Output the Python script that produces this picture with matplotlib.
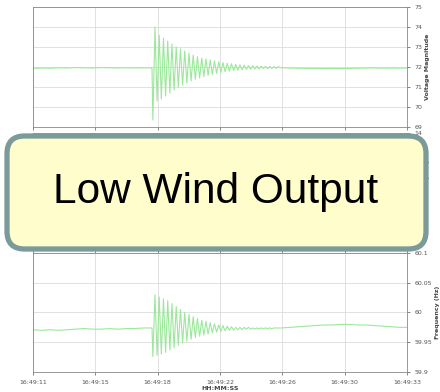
import numpy as np
import matplotlib.pyplot as plt
from matplotlib.patches import FancyBboxPatch

# time ticks (seconds after 16:49:11)
tick_pos = [0, 3.667, 7.333, 11.0, 14.667, 18.333, 22.0]
tick_lab = ['16:49:11', '16:49:15', '16:49:18', '16:49:22', '16:49:26', '16:49:30', '16:49:33']

# voltage magnitude: quiet baseline before the event (every 0.5 s)
v_pre = [71.93, 71.95, 71.94, 71.96, 71.95, 71.97, 71.96, 71.95, 71.97, 71.96,
         71.95, 71.96, 71.95, 71.96, 71.95]
# oscillation lows / highs (one pair every 0.25 s, from t=7.05 s)
v_low = [69.35, 70.3, 70.4, 70.55, 70.7, 70.85, 71.0, 71.1, 71.2, 71.3,
         71.38, 71.45, 71.52, 71.58, 71.63, 71.68, 71.72, 71.76, 71.79, 71.82,
         71.84, 71.86, 71.88, 71.89, 71.9, 71.91, 71.92, 71.92, 71.93, 71.93]
v_high = [74.0, 73.6, 73.45, 73.3, 73.15, 73.0, 72.9, 72.8, 72.7, 72.6,
          72.52, 72.45, 72.4, 72.35, 72.3, 72.26, 72.22, 72.19, 72.16, 72.13,
          72.11, 72.09, 72.07, 72.06, 72.05, 72.04, 72.03, 72.02, 72.02, 72.01]
# baseline after the event (every 0.5 s, from t=14.6 s)
v_post = [71.96, 71.95, 71.94, 71.93, 71.93, 71.92, 71.93, 71.92, 71.93, 71.94,
          71.95, 71.95, 71.94, 71.95, 71.94, 71.95]

# frequency
f_pre = [59.971, 59.970, 59.971, 59.970, 59.971, 59.972, 59.973, 59.972, 59.972,
         59.973, 59.972, 59.973, 59.973, 59.974, 59.974]
f_low = [59.926, 59.928, 59.930, 59.933, 59.937, 59.941, 59.945, 59.949, 59.952, 59.955,
         59.958, 59.960, 59.962, 59.964, 59.966, 59.967, 59.968, 59.969, 59.970, 59.970,
         59.971, 59.971, 59.972, 59.972, 59.972, 59.973, 59.973, 59.973, 59.973, 59.974]
f_high = [60.030, 60.026, 60.023, 60.020, 60.015, 60.010, 60.005, 60.000, 59.997, 59.993,
          59.990, 59.987, 59.985, 59.983, 59.981, 59.979, 59.978, 59.977, 59.976, 59.975,
          59.975, 59.975, 59.975, 59.974, 59.974, 59.974, 59.974, 59.974, 59.974, 59.974]
f_post = [59.974, 59.975, 59.976, 59.977, 59.978, 59.979, 59.979, 59.980, 59.980, 59.979,
          59.979, 59.978, 59.977, 59.976, 59.975, 59.975]

t_pre = np.arange(len(v_pre)) * 0.5
t_osc = 7.05 + np.arange(2 * len(v_low)) * 0.125
t_post = 14.6 + np.arange(len(v_post)) * 0.5

def series(pre, low, high, post):
    osc = np.column_stack([low, high]).ravel()
    return (np.concatenate([t_pre, t_osc, t_post]),
            np.concatenate([pre, osc, post]))

line_col = '#9be89b'
grid_col = '#dcdcdc'

fig = plt.figure(figsize=(4.4, 3.92), dpi=100)
W, H = 440.0, 392.0

def make_ax(top, bottom):
    ax = fig.add_axes([33 / W, 1 - bottom / H, (407 - 33) / W, (bottom - top) / H])
    ax.yaxis.tick_right()
    ax.yaxis.set_label_position('right')
    ax.set_xlim(0, 22)
    ax.set_xticks(tick_pos)
    ax.tick_params(labelsize=4.5, colors='#555555', length=2, width=0.5)
    ax.grid(True, color=grid_col, linewidth=0.6)
    for s in ax.spines.values():
        s.set_color('#888888')
        s.set_linewidth(0.6)
    return ax

ax1 = make_ax(7, 127)
t, v = series(v_pre, v_low, v_high, v_post)
ax1.plot(t, v, color=line_col, linewidth=0.8)
ax1.set_ylim(69, 75)
ax1.set_yticks([69, 70, 71, 72, 73, 74, 75])
ax1.set_xticklabels([])
ax1.set_ylabel('Voltage Magnitude', fontsize=4.5, fontweight='bold', color='#444444', labelpad=2)

ax2 = make_ax(133, 250)
ax2.set_ylim(8, 14)
ax2.set_yticks([9, 10, 11, 12, 13, 14])
ax2.set_xticklabels([])
ax2.set_ylabel('Wind Power (MW)', fontsize=4.5, fontweight='bold', color='#444444', labelpad=2)

ax3 = make_ax(253, 372)
t, f = series(f_pre, f_low, f_high, f_post)
ax3.plot(t, f, color=line_col, linewidth=0.8)
ax3.set_ylim(59.9, 60.1)
ax3.set_yticks([59.9, 59.95, 60, 60.05, 60.1])
ax3.set_yticklabels(['59.9', '59.95', '60', '60.05', '60.1'])
ax3.set_xticklabels(tick_lab)
ax3.set_xlabel('HH:MM:SS', fontsize=4.5, fontweight='bold', color='#444444', labelpad=1)
ax3.set_ylabel('Frequency (Hz)', fontsize=4.5, fontweight='bold', color='#444444', labelpad=2)

# callout box
box = FancyBboxPatch((7 / W, 1 - 249 / H), (426 - 7) / W, (249 - 136) / H,
                     boxstyle='round,pad=0,rounding_size=0.04',
                     mutation_aspect=W / H,
                     transform=fig.transFigure,
                     facecolor='#fffdcc', edgecolor='#7b9b9b', linewidth=3.8,
                     zorder=10)
fig.add_artist(box)
fig.text(216 / W, 1 - 192 / H, 'Low Wind Output', fontsize=30.5,
         family='Liberation Sans', ha='center', va='center', zorder=11)

fig.savefig('out.png', dpi=100)
